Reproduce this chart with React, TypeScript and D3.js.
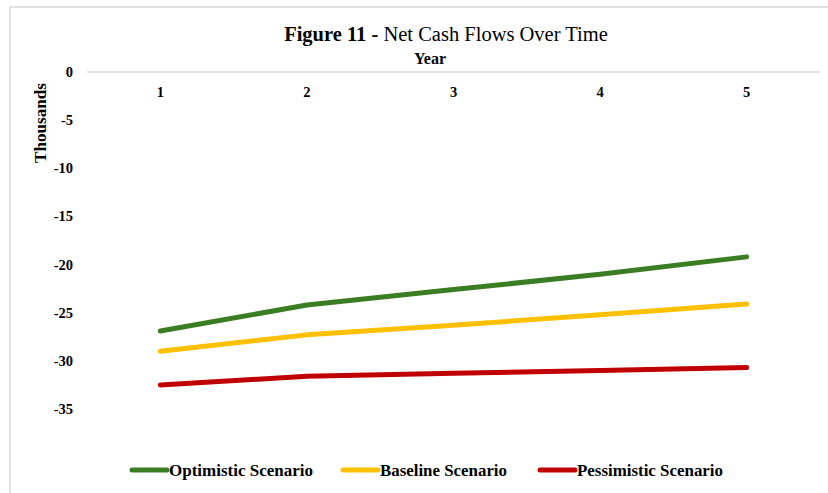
import React from "react";
import * as d3 from "d3";

const years = ["1", "2", "3", "4", "5"];
const yTicks = [0, -5, -10, -15, -20, -25, -30, -35];
const optimistic = [-26.9, -24.2, -22.6, -21.0, -19.2];
const baseline = [-29.0, -27.3, -26.3, -25.2, -24.1];
const pessimistic = [-32.5, -31.6, -31.3, -31.0, -30.7];
const seriesNames = ["Optimistic Scenario", "Baseline Scenario", "Pessimistic Scenario"];
const seriesColors = ["#3B7D23", "#FFC000", "#C00000"];

const W = 828;
const H = 493;
const FONT = "'Liberation Serif', 'Times New Roman', serif";

export default function App() {
  const x = d3.scaleBand<string>().domain(years).range([87, 820]);
  const xc = (d: string) => (x(d) as number) + x.bandwidth() / 2;
  const y = d3.scaleLinear().domain([-35, 0]).range([409, 72]);
  const data = [optimistic, baseline, pessimistic];
  const line = d3
    .line<number>()
    .x((_, i) => xc(years[i]))
    .y((v) => y(v));

  const legendItems = [
    { x0: 132, x1: 167, tx: 169, len: 144 },
    { x0: 343, x1: 378, tx: 380, len: 127 },
    { x0: 540, x1: 575, tx: 577, len: 146 },
  ];

  return (
    <svg
      width={W}
      height={H}
      style={{ position: "absolute", left: 0, top: 0, background: "#fff" }}
      fontFamily={FONT}
    >
      <rect x={0} y={0} width={W} height={H} fill="#fff" />
      {/* frame */}
      <line x1={10} y1={7} x2={W} y2={7} stroke="#d9d9d9" strokeWidth={1.5} />
      <line x1={10} y1={7} x2={10} y2={H} stroke="#d9d9d9" strokeWidth={1.5} />

      {/* title */}
      <text x={446} y={41} textAnchor="middle" fontSize={20.5} fill="#000">
        <tspan fontWeight="bold">Figure 11 -</tspan>
        <tspan> Net Cash Flows Over Time</tspan>
      </text>
      <text x={430} y={64} textAnchor="middle" fontSize={16} fontWeight="bold" fill="#000">
        Year
      </text>

      {/* zero axis line */}
      <line x1={87} x2={820} y1={y(0)} y2={y(0)} stroke="#d9d9d9" strokeWidth={1.5} />

      {/* x tick labels */}
      {years.map((yr) => (
        <text key={yr} x={xc(yr)} y={97} textAnchor="middle" fontSize={14.5} fontWeight="bold">
          {yr}
        </text>
      ))}

      {/* y tick labels */}
      {yTicks.map((t) => (
        <text key={t} x={73} y={y(t) + 5} textAnchor="end" fontSize={14.5} fontWeight="bold">
          {t}
        </text>
      ))}

      <text
        transform={`translate(46,123) rotate(-90)`}
        textAnchor="middle"
        fontSize={16.5}
        fontWeight="bold"
        textLength={80}
        lengthAdjust="spacingAndGlyphs"
      >
        Thousands
      </text>

      {/* lines */}
      {data.map((s, i) => (
        <path
          key={i}
          d={line(s) as string}
          fill="none"
          stroke={seriesColors[i]}
          strokeWidth={5}
          strokeLinecap="round"
          strokeLinejoin="round"
        />
      ))}

      {/* legend */}
      {seriesNames.map((n, i) => (
        <g key={n}>
          <line
            x1={legendItems[i].x0}
            x2={legendItems[i].x1}
            y1={470}
            y2={470}
            stroke={seriesColors[i]}
            strokeWidth={5}
            strokeLinecap="round"
          />
          <text
            x={legendItems[i].tx}
            y={475.5}
            fontSize={16.5}
            fontWeight="bold"
            textLength={legendItems[i].len}
            lengthAdjust="spacingAndGlyphs"
          >
            {n}
          </text>
        </g>
      ))}
    </svg>
  );
}
